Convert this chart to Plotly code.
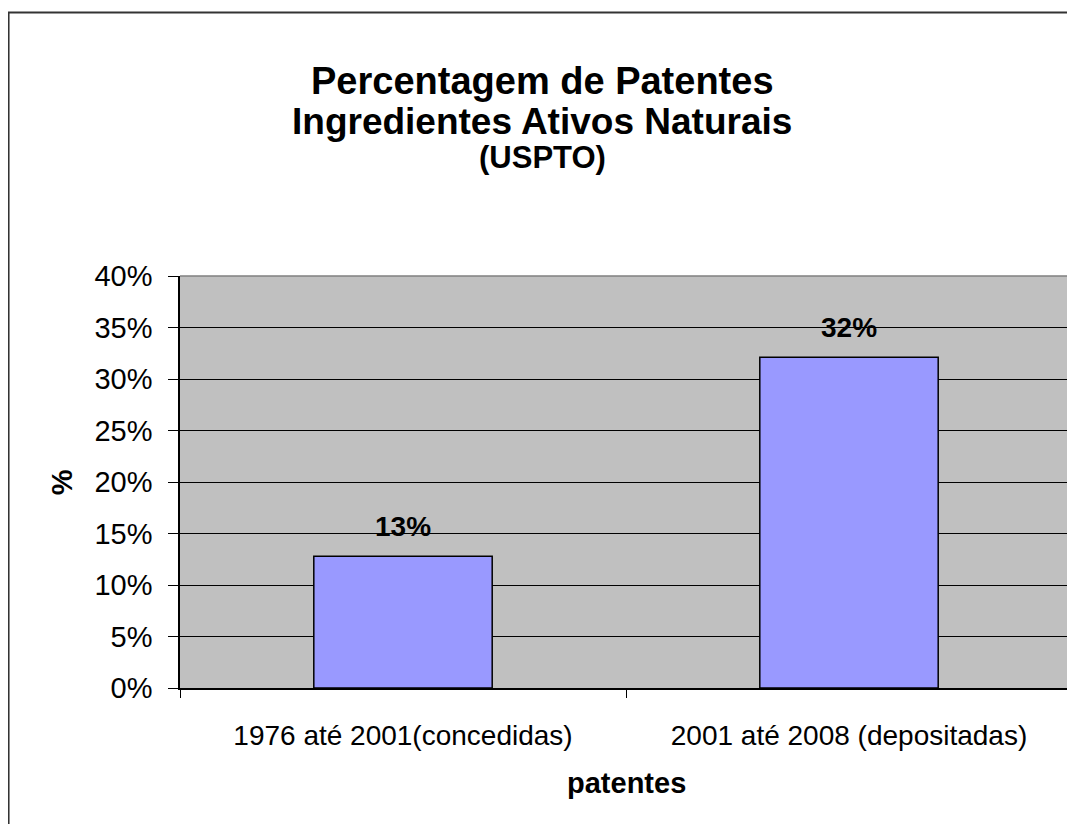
import plotly.graph_objects as go

# data
categorias = ['1976 até 2001(concedidas)', '2001 até 2008 (depositadas)']
percentagens = [12.8, 32.1]
rotulos = ['%d%%' % round(v) for v in percentagens]
y_ticks = list(range(0, 45, 5))
y_ticktext = ['%d%%' % v for v in y_ticks]

titulo_1 = 'Percentagem de Patentes'
titulo_2 = 'Ingredientes Ativos Naturais'
titulo_3 = '(USPTO)'
x_titulo = 'patentes'
y_titulo = '%'

fonte = 'Liberation Sans, Arial, sans-serif'

fig = go.Figure(go.Bar(
	x=categorias, y=percentagens,
	marker_color='#9999FF',
	marker_line=dict(color='black', width=1.5),
	width=0.4,
))

anotacoes = []
for c, v, t in zip(categorias, percentagens, rotulos):
	anotacoes.append(dict(x=c, y=v, text='<b>%s</b>' % t, showarrow=False,
		yanchor='bottom', yshift=12, font=dict(size=28, family=fonte, color='black')))

# title lines and axis titles
anotacoes += [
	dict(x=0.406, y=1.4735, xref='paper', yref='paper', text='<b>%s</b>' % titulo_1,
		showarrow=False, xanchor='center', yanchor='middle', font=dict(size=38, family=fonte, color='black')),
	dict(x=0.406, y=1.376, xref='paper', yref='paper', text='<b>%s</b>' % titulo_2,
		showarrow=False, xanchor='center', yanchor='middle', font=dict(size=37, family=fonte, color='black')),
	dict(x=0.406, y=1.288, xref='paper', yref='paper', text='<b>%s</b>' % titulo_3,
		showarrow=False, xanchor='center', yanchor='middle', font=dict(size=31, family=fonte, color='black')),
	dict(x=0.5, y=-0.230, xref='paper', yref='paper', text='<b>%s</b>' % x_titulo,
		showarrow=False, xanchor='center', yanchor='middle', font=dict(size=29, family=fonte, color='black')),
	dict(x=-0.132, y=0.5, xref='paper', yref='paper', text='<b>%s</b>' % y_titulo,
		showarrow=False, xanchor='center', yanchor='middle', textangle=-90,
		font=dict(size=29, family=fonte, color='black')),
]

# page body adds an 8px offset, so the figure is 8px smaller and shifted
fig.update_layout(
	width=1067, height=816,
	margin=dict(l=172, r=3, t=268, b=136),
	paper_bgcolor='white',
	plot_bgcolor='#C0C0C0',
	showlegend=False,
	annotations=anotacoes,
	font=dict(family=fonte, size=28, color='black'),
	shapes=[
		# outer chart frame (only top/left visible)
		dict(type='rect', xref='paper', yref='paper', x0=-0.1922, y0=-0.7, x1=1.3, y1=1.6395,
			line=dict(color='#333333', width=2)),
		# plot area border, top and right
		dict(type='path', xref='paper', yref='paper', path='M 0,1 L 1,1 L 1,0',
			line=dict(color='#808080', width=1.5), layer='above'),
	],
)

fig.update_xaxes(
	showline=True, linecolor='black', linewidth=1.5,
	ticks='outside', tickson='boundaries', ticklen=8, tickcolor='black',
	tickfont=dict(size=28, family=fonte, color='black'),
	ticklabelstandoff=22,
	showgrid=False,
)
fig.update_yaxes(
	range=[0, 40], tickmode='array', tickvals=y_ticks, ticktext=y_ticktext,
	showline=True, linecolor='black', linewidth=1.5,
	ticks='outside', ticklen=10, tickcolor='black',
	tickfont=dict(size=29, family=fonte, color='black'),
	ticklabelstandoff=10,
	showgrid=True, gridcolor='black', gridwidth=1,
	zeroline=False,
)

fig.write_html('out.html')
